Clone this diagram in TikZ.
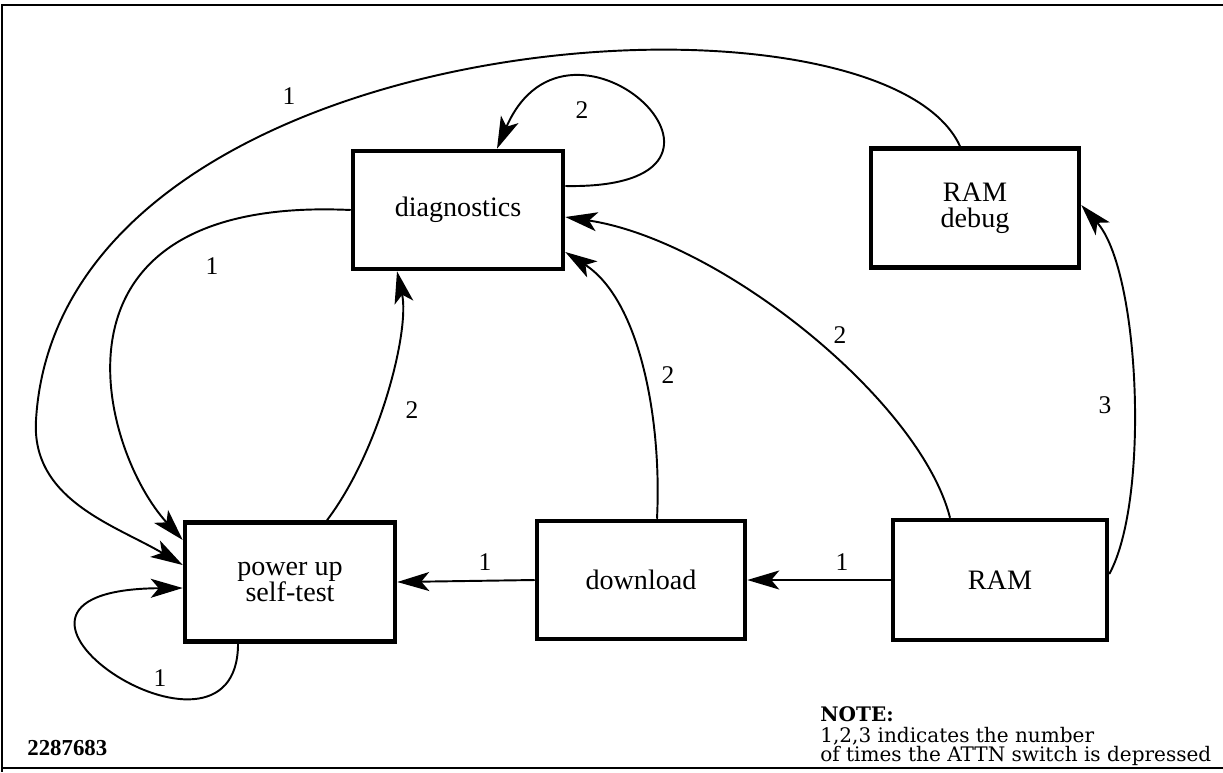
\documentclass[tikz,border=0pt]{standalone}
\usepackage{fontspec}
\setmainfont{Liberation Serif}
\newfontfamily\notefont{DejaVu Serif}
\usetikzlibrary{arrows.meta}

\begin{document}
\begin{tikzpicture}[x=0.02cm, y=-0.02cm,
  state/.style={draw, line width=2.6pt, minimum width=4.2cm, minimum height=2.36cm, align=center, font=\fontsize{16}{15}\selectfont},
  arr/.style={line width=1.1pt, -{Stealth[length=0.64cm,width=0.38cm,inset=0.16cm]}},
  num/.style={font=\fontsize{14.5}{16}\selectfont, inner sep=0pt}]
\useasboundingbox (0,0) rectangle (1223,772);
%\draw[help lines] (0,0) grid[step=100] (1223,772);
\draw[line width=1.3pt] (1223,5) -- (2,5) -- (2,772);
\draw[line width=1.3pt] (2,768) -- (1223,768);

\node (diag) [state] at (458,210) {diagnostics};
\node (ramdbg) [state, minimum width=4.16cm, minimum height=2.38cm] at (975,208) {RAM\\debug};
\node (power) [state, minimum height=2.38cm] at (290,582) {power up\\self-test};
\node (down) [state, minimum width=4.16cm] at (641,580) {download};
\node (ram) [state, minimum width=4.28cm, minimum height=2.4cm] at (1000,580) {RAM};

\node (l1a) [num] at (289,96) {1};
\node (l2a) [num] at (582,110) {2};
\node (l1b) [num] at (212,266) {1};
\node (l2b) [num] at (412,410) {2};
\node (l2c) [num] at (668,375) {2};
\node (l2d) [num] at (840,335) {2};
\node (l3) [num] at (1105,405) {3};
\node (l1c) [num] at (842,562) {1};
\node (l1d) [num] at (485,562) {1};
\node (l1e) [num] at (160,678) {1};

\draw[arr] (ram.west) -- (down.east);
\draw[arr] (down.west) -- (power.east);
\draw[arr] ([xshift=-1.04cm]power.south) .. controls (238,795) and (-70,590) .. ([yshift=-0.12cm]power.west);
\draw[arr] (diag.west) .. controls (30,195) and (100,450) .. ([yshift=0.84cm]power.west);
\draw[arr] ([xshift=-0.3cm]ramdbg.north) .. controls (880,-30) and (60,20) .. (36,420)
  .. controls (31,500) and (115,525) .. ([yshift=0.34cm]power.west);
\draw[arr] ([xshift=0.74cm]power.north) .. controls (380,450) and (410,330) .. ([xshift=-1.22cm]diag.south);
\draw[arr] ([xshift=0.32cm]down.north) .. controls (662,420) and (640,300) .. ([yshift=-0.84cm]diag.east);
\draw[arr] ([xshift=-1cm]ram.north) .. controls (920,400) and (720,240) .. ([yshift=-0.14cm]diag.east);
\draw[arr] ([yshift=0.12cm]ram.east) .. controls (1150,500) and (1140,270) .. ([yshift=0.06cm]ramdbg.east);
\draw[arr] ([yshift=0.48cm]diag.east) .. controls (790,190) and (570,-20) .. ([xshift=0.78cm]diag.north);

\node (id) [anchor=base west, inner sep=0pt, font=\fontsize{13}{15}\selectfont\bfseries] at (27,755) {2287683};
\node (note) [anchor=north west, align=left, inner sep=0pt, font=\notefont\fontsize{11.4}{9.9}\selectfont] at (820,706)
  {\textbf{NOTE:}\\[2pt]1,2,3 indicates the number\\of times the ATTN switch is depressed};
\end{tikzpicture}
\end{document}
